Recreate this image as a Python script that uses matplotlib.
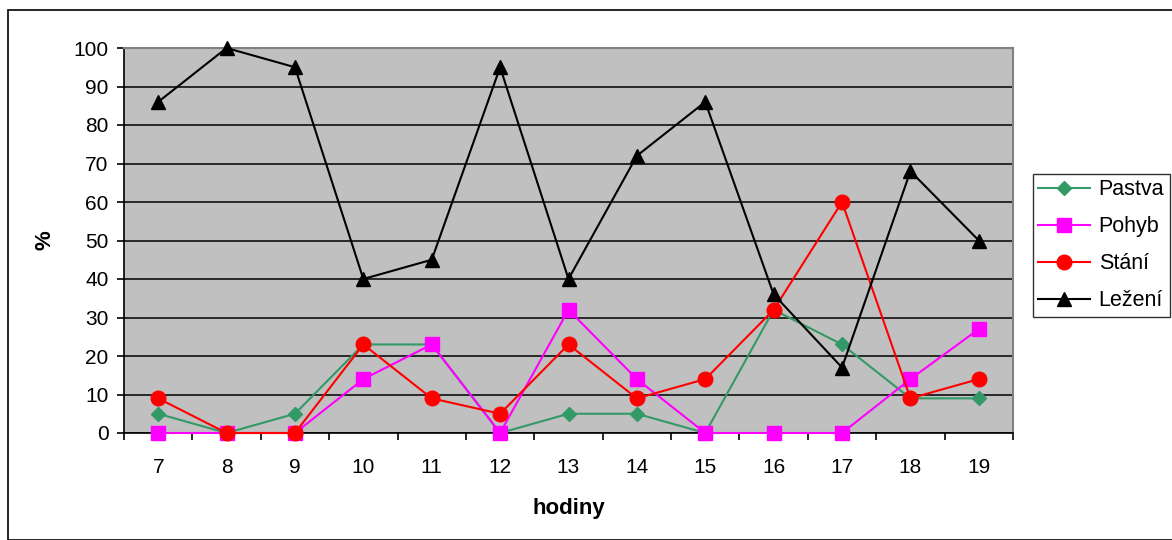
import numpy as np
import matplotlib.pyplot as plt
from matplotlib.patches import Rectangle

plt.rcParams['font.family'] = ['Liberation Sans', 'DejaVu Sans']

hodiny = [7, 8, 9, 10, 11, 12, 13, 14, 15, 16, 17, 18, 19]
pastva = [5, 0, 5, 23, 23, 0, 5, 5, 0, 32, 23, 9, 9]
pohyb = [0, 0, 0, 14, 23, 0, 32, 14, 0, 0, 0, 14, 27]
stani = [9, 0, 0, 23, 9, 5, 23, 9, 14, 32, 60, 9, 14]
lezeni = [86, 100, 95, 40, 45, 95, 40, 72, 86, 36, 17, 68, 50]

fig = plt.figure(figsize=(11.72, 5.4), dpi=100)
fig.patches.append(Rectangle((8 / 1172, 0), 1.0, 1 - 10 / 540, transform=fig.transFigure,
                             fill=False, edgecolor='black', linewidth=1.2))

ax = fig.add_axes([124 / 1172, 1 - 433 / 540, 889 / 1172, 385 / 540])
ax.set_facecolor('#c0c0c0')

x = np.arange(len(hodiny))
ax.plot(x, pastva, color='#339966', marker='D', markersize=7.5, linewidth=1.5,
        label='Pastva', clip_on=False, zorder=3)
ax.plot(x, pohyb, color='#ff00ff', marker='s', markersize=10, linewidth=1.5,
        label='Pohyb', clip_on=False, zorder=3)
ax.plot(x, stani, color='#ff0000', marker='o', markersize=10.5, linewidth=1.5,
        label='Stání', clip_on=False, zorder=3)
ax.plot(x, lezeni, color='black', marker='^', markersize=10.5, linewidth=1.5,
        label='Ležení', clip_on=False, zorder=3)

ax.set_xlim(-0.5, len(hodiny) - 0.5)
ax.set_ylim(0, 100)
ax.set_yticks(range(0, 101, 10))
ax.yaxis.grid(True, color='black', linewidth=1.1)
ax.set_axisbelow(True)

ax.set_xticks(x)
ax.set_xticklabels([str(h) for h in hodiny])
ax.set_xticks(np.arange(-0.5, len(hodiny)), minor=True)
ax.tick_params(axis='x', which='major', length=0, pad=18, labelsize=15)
ax.tick_params(axis='x', which='minor', length=5, width=1.2, direction='out')
ax.tick_params(axis='y', length=5, width=1.2, direction='out', pad=6, labelsize=15)

for side in ['left', 'bottom']:
    ax.spines[side].set_color('black')
    ax.spines[side].set_linewidth(1.2)
for side in ['top', 'right']:
    ax.spines[side].set_color('#808080')
    ax.spines[side].set_linewidth(1.5)

ax.set_xlabel('hodiny', fontsize=16, fontweight='bold', labelpad=15)
ax.set_ylabel('%', fontsize=16, fontweight='bold', labelpad=13)

leg = fig.legend(loc='upper left', bbox_to_anchor=(1033 / 1172, 1 - 174 / 540),
                 fontsize=15.5, frameon=True, fancybox=False, borderaxespad=0,
                 handlelength=2.4, handletextpad=0.4, labelspacing=0.74, borderpad=0.25)
leg.get_frame().set_edgecolor('black')
leg.get_frame().set_linewidth(1.0)

fig.savefig('out.png', dpi=100)
